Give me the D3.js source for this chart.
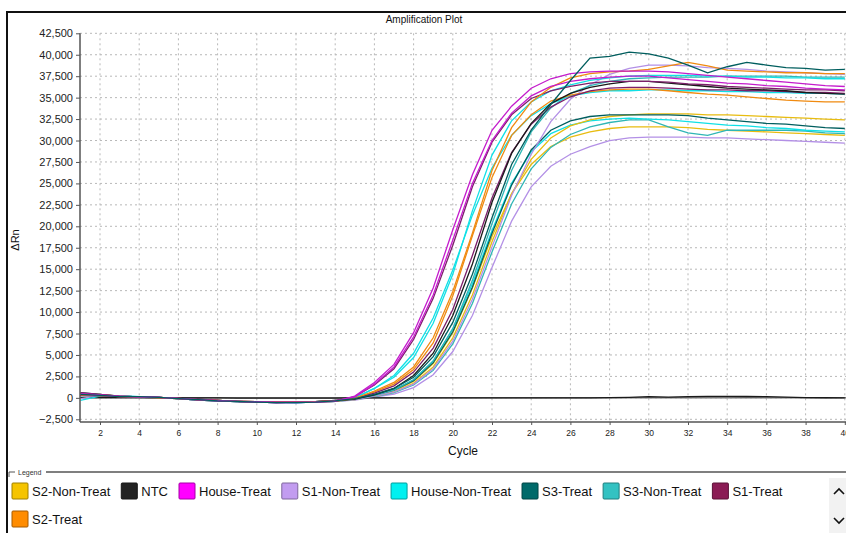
<!DOCTYPE html>
<html>
<head>
<meta charset="UTF-8">
<title>Amplification Plot</title>
<style>
  body { margin: 0; background: #fff; }
  svg { display: block; font-family: "Liberation Sans", Arial, sans-serif; }
  .grid line { stroke: #b8b8b8; stroke-dasharray: 2,3; }
  .axis path, .axis line { stroke: #555; }
  .axis text { fill: #222; }
</style>
</head>
<body>
<svg width="846" height="533"></svg>
<script src="https://d3js.org/d3.v7.min.js"></script>
<script>
// cycle numbers and tick values
var cycles = d3.range(1, 41);
var xTicks = d3.range(2, 41, 2);
var yTicks = d3.range(-2500, 42501, 2500);

// legend entries (sample name, swatch colour, line colour)
var samples = ["S2-Non-Treat", "NTC", "House-Treat", "S1-Non-Treat", "House-Non-Treat", "S3-Treat", "S3-Non-Treat", "S1-Treat", "S2-Treat"];
var sampleColors = ["#f5c400", "#222222", "#ff00ff", "#c29cf0", "#00f0f0", "#006a6a", "#33c2c2", "#8b1c55", "#ff8c00"];
var lineColors = ["#e8bc10", "#1a1a1a", "#c41ccc", "#b390e6", "#10e0e6", "#005e5e", "#2fb6b6", "#7c1f6a", "#f08a10"];

// delta Rn per cycle (1..40), one array per well
var houseTreatA = [500, 350, 200, 100, 50, -50, -200, -300, -400, -450, -500, -500, -500, -400,
  200, 1800, 3900, 7600, 12800, 19600, 26000, 31200, 34000, 36100, 37200, 37800, 38000, 38100, 38100, 38100, 38000, 37800, 37600, 37400, 37200, 37000, 36800, 36600, 36400, 36300];
var houseTreatB = [400, 300, 150, 150, 50, -100, -200, -350, -400, -500, -550, -550, -500, -350,
  100, 1600, 3600, 7100, 12000, 18400, 25000, 30000, 33200, 35200, 36300, 36900, 37200, 37400, 37500, 37500, 37300, 37100, 36900, 36700, 36600, 36400, 36300, 36100, 36000, 35900];
var s1TreatA = [300, 250, 150, 100, 50, -50, -150, -300, -400, -450, -500, -500, -450, -350,
  150, 1500, 3400, 6800, 11600, 17800, 24600, 29800, 33000, 34900, 35800, 36300, 36700, 36900, 36900, 36900, 36800, 36600, 36500, 36300, 36200, 36100, 36000, 35900, 35900, 35800];
var s1TreatB = [600, 400, 200, 100, 0, -100, -250, -350, -450, -500, -550, -500, -450, -300,
  -100, 550, 1400, 3000, 5800, 10300, 16600, 23300, 28600, 31900, 33900, 35100, 35800, 36100, 36200, 36200, 36100, 36000, 35900, 35900, 35800, 35800, 35700, 35600, 35600, 35500];
var houseNonTreatA = [-300, 200, 250, 150, 50, -100, -250, -350, -450, -500, -500, -550, -500, -400,
  0, 1100, 2400, 4700, 8700, 14400, 21800, 28300, 32300, 34500, 35800, 36500, 37000, 37300, 37500, 37600, 37600, 37600, 37500, 37500, 37400, 37400, 37300, 37300, 37200, 37200];
var houseNonTreatB = [450, 300, 200, 100, 0, -100, -200, -300, -400, -500, -500, -500, -450, -350,
  0, 1100, 2600, 5200, 9300, 14900, 21300, 26800, 30600, 32900, 34300, 35200, 35600, 35800, 35800, 35900, 35900, 35800, 35800, 35700, 35700, 35600, 35600, 35500, 35500, 35400];
var houseNonTreatC = [350, 300, 200, 100, 50, -100, -250, -350, -450, -500, -550, -550, -500, -400,
  -150, 300, 950, 2100, 4300, 8000, 13300, 19500, 25000, 28700, 30800, 31800, 32300, 32500, 32600, 32500, 32400, 32200, 32000, 31800, 31700, 31500, 31400, 31200, 31100, 31000];
var s2TreatA = [350, 250, 150, 100, 0, -100, -200, -300, -400, -450, -500, -500, -450, -350,
  -50, 800, 1800, 3600, 7000, 12400, 19200, 26500, 31500, 34500, 36200, 37300, 37800, 38000, 38100, 38300, 38700, 39100, 38700, 38200, 38100, 38000, 37900, 37900, 37800, 37800];
var s2TreatB = [500, 350, 200, 100, 50, -50, -200, -300, -400, -450, -500, -500, -500, -400,
  -100, 700, 1600, 3300, 6400, 11900, 18900, 25700, 30600, 33000, 34600, 35300, 35700, 35900, 36000, 36000, 35800, 35600, 35400, 35300, 35100, 34900, 34700, 34600, 34500, 34500];
var s3TreatA = [400, 300, 150, 150, 50, -100, -200, -350, -400, -500, -550, -550, -500, -350,
  -100, 400, 1100, 2400, 4800, 8800, 14400, 21000, 27200, 31200, 34200, 37000, 39600, 39800, 40300, 40100, 39600, 38800, 37900, 38600, 39100, 38800, 38500, 38400, 38200, 38300];
var s3TreatB = [600, 400, 200, 100, 0, -100, -250, -350, -450, -500, -550, -500, -450, -300,
  -150, 300, 900, 2000, 4100, 7700, 12900, 19200, 24800, 28900, 31200, 32300, 32800, 33000, 33000, 33000, 33000, 32900, 32600, 32400, 32200, 32000, 31900, 31700, 31500, 31400];
var ntcA = [300, 250, 150, 100, 50, -50, -150, -300, -400, -450, -500, -500, -450, -350,
  -150, 350, 1100, 2600, 5200, 9600, 15600, 22800, 28500, 32000, 34300, 35500, 36200, 36600, 36900, 36900, 36700, 36500, 36300, 36100, 36000, 35900, 35800, 35600, 35500, 35400];
var ntcB = [50, 40, 30, 20, 10, 0, -10, -10, -20, -20, -20, -20, -20, -20,
  -10, 0, 0, 0, 0, 0, 0, 0, 0, 0, 0, 0, 0, 20, 60, 150, 90, 140, 170, 170, 160, 140, 80, 30, 10, 0];
var s1NonTreatA = [-100, 250, 200, 150, 50, -100, -250, -350, -450, -500, -550, -550, -500, -400,
  -200, 200, 700, 1600, 3400, 6600, 11500, 17600, 23600, 28400, 32200, 34800, 36500, 37700, 38400, 38800, 38800, 38700, 38500, 38400, 38300, 38100, 38000, 37900, 37800, 37700];
var s1NonTreatB = [450, 350, 200, 100, 0, -100, -250, -350, -450, -500, -550, -550, -500, -400,
  -250, 100, 450, 1200, 2700, 5400, 9600, 15200, 20600, 24600, 27000, 28400, 29300, 30000, 30300, 30400, 30400, 30400, 30300, 30300, 30200, 30100, 30000, 29900, 29800, 29700];
var s3NonTreatA = [400, 300, 200, 100, 50, -100, -200, -300, -400, -500, -500, -500, -450, -350,
  -150, 300, 900, 2100, 4300, 8100, 13700, 20300, 26500, 31000, 33800, 35500, 36400, 36900, 37200, 37300, 37400, 37400, 37400, 37500, 37500, 37500, 37500, 37400, 37400, 37400];
var s3NonTreatB = [250, 300, 150, 100, 50, -50, -200, -300, -400, -450, -500, -550, -500, -400,
  -200, 150, 600, 1500, 3200, 6300, 11000, 17000, 22600, 26700, 29200, 30700, 31600, 32100, 32400, 32400, 31600, 30900, 30600, 31200, 31200, 31200, 31200, 31100, 30900, 30800];
var s2NonTreatA = [550, 400, 200, 100, 0, -100, -250, -350, -450, -500, -500, -500, -450, -350,
  -200, 200, 700, 1700, 3600, 7000, 12000, 18200, 23800, 27800, 30300, 31700, 32400, 32800, 33000, 33100, 33100, 33100, 33000, 33000, 32900, 32800, 32700, 32600, 32500, 32400];
var s2NonTreatB = [500, 350, 200, 100, 50, -50, -200, -300, -400, -450, -500, -500, -500, -400,
  -150, 250, 800, 1900, 4000, 7600, 12800, 18800, 23800, 27200, 29300, 30400, 31000, 31400, 31600, 31600, 31600, 31500, 31300, 31200, 31100, 31000, 30900, 30800, 30700, 30600];

var wells = [
  { sample: "S1-Non-Treat", values: s1NonTreatB },
  { sample: "S2-Non-Treat", values: s2NonTreatB },
  { sample: "S3-Non-Treat", values: s3NonTreatB },
  { sample: "House-Non-Treat", values: houseNonTreatC },
  { sample: "S2-Non-Treat", values: s2NonTreatA },
  { sample: "S3-Treat", values: s3TreatB },
  { sample: "NTC", values: ntcB },
  { sample: "S1-Non-Treat", values: s1NonTreatA },
  { sample: "S3-Non-Treat", values: s3NonTreatA },
  { sample: "House-Non-Treat", values: houseNonTreatB },
  { sample: "House-Non-Treat", values: houseNonTreatA },
  { sample: "S2-Treat", values: s2TreatB },
  { sample: "S1-Treat", values: s1TreatB },
  { sample: "NTC", values: ntcA },
  { sample: "S1-Treat", values: s1TreatA },
  { sample: "S2-Treat", values: s2TreatA },
  { sample: "House-Treat", values: houseTreatB },
  { sample: "House-Treat", values: houseTreatA },
  { sample: "S3-Treat", values: s3TreatA }
];

var svg = d3.select("svg");
var color = d3.scaleOrdinal().domain(samples).range(sampleColors);
var lineColor = d3.scaleOrdinal().domain(samples).range(lineColors);

var x = d3.scaleLinear().domain([1, 40]).range([80.4, 844.8]);
var y = d3.scaleLinear().domain([-2500, 42500]).range([419.3, 33.3]);
var plotBottom = 422;

// outer frame
svg.append("line").attr("x1", 7).attr("x2", 7).attr("y1", 12).attr("y2", 533)
  .attr("stroke", "#111").attr("stroke-width", 2);
svg.append("line").attr("x1", 6).attr("x2", 846).attr("y1", 12).attr("y2", 12)
  .attr("stroke", "#111").attr("stroke-width", 2);

svg.append("text").attr("x", 424).attr("y", 23).attr("text-anchor", "middle")
  .attr("font-size", 10).attr("fill", "#111").text("Amplification Plot");

// grid
var grid = svg.append("g").attr("class", "grid");
grid.selectAll(".gy").data(yTicks).enter().append("line")
  .attr("x1", 80).attr("x2", 846)
  .attr("y1", function (d) { return y(d); }).attr("y2", function (d) { return y(d); });
grid.selectAll(".gx").data(xTicks).enter().append("line")
  .attr("x1", function (d) { return x(d); }).attr("x2", function (d) { return x(d); })
  .attr("y1", y(42500)).attr("y2", plotBottom);

// zero line
svg.append("line").attr("x1", 80).attr("x2", 846).attr("y1", y(0)).attr("y2", y(0))
  .attr("stroke", "#777").attr("stroke-width", 1.5);

// curves
var line = d3.line()
  .x(function (d, i) { return x(cycles[i]); })
  .y(function (d) { return y(d); });

svg.append("g").selectAll("path").data(wells).enter().append("path")
  .attr("d", function (d) { return line(d.values); })
  .attr("fill", "none")
  .attr("stroke", function (d) { return lineColor(d.sample); })
  .attr("stroke-width", 1.3);

// axes
var yAxis = svg.append("g").attr("class", "axis").attr("transform", "translate(80,0)")
  .call(d3.axisLeft(y).tickValues(yTicks).tickSize(4).tickSizeOuter(0).tickFormat(d3.format(",")));
yAxis.select(".domain").attr("d", "M0," + y(42500) + "V" + plotBottom).attr("stroke-width", 1.5);
yAxis.selectAll("text").attr("font-size", 11);

var xAxis = svg.append("g").attr("class", "axis").attr("transform", "translate(0," + plotBottom + ")")
  .call(d3.axisBottom(x).tickValues(xTicks).tickSize(3).tickSizeOuter(0));
xAxis.select(".domain").attr("d", "M80,0H846").attr("stroke-width", 1.5);
xAxis.selectAll("text").attr("font-size", 8.5).attr("dy", "0.9em");

svg.append("text").attr("transform", "translate(19,240) rotate(-90)")
  .attr("text-anchor", "middle").attr("font-size", 11).attr("fill", "#111").text("\u0394Rn");
svg.append("text").attr("x", 463).attr("y", 455).attr("text-anchor", "middle")
  .attr("font-size", 12).attr("fill", "#111").text("Cycle");

// legend box
svg.append("line").attr("x1", 9).attr("x2", 9).attr("y1", 472).attr("y2", 477).attr("stroke", "#555");
svg.append("line").attr("x1", 9).attr("x2", 15).attr("y1", 472).attr("y2", 472).attr("stroke", "#555");
svg.append("line").attr("x1", 46).attr("x2", 846).attr("y1", 472).attr("y2", 472).attr("stroke", "#555").attr("stroke-width", 1.3);
svg.append("text").attr("x", 18).attr("y", 475).attr("font-size", 7).attr("fill", "#333").text("Legend");

var legend = svg.append("g");
var lx = 12, ly = 483, maxX = 822;
samples.forEach(function (s) {
  var item = legend.append("g");
  item.append("rect").attr("width", 16).attr("height", 16).attr("rx", 1)
    .attr("fill", color(s)).attr("stroke", d3.color(color(s)).darker(1.2)).attr("stroke-width", 1);
  var t = item.append("text").attr("x", 20).attr("y", 13).attr("font-size", 13).attr("fill", "#111").text(s);
  var w = 20 + t.node().getComputedTextLength();
  if (lx + w > maxX) { lx = 12; ly += 28; }
  item.attr("transform", "translate(" + lx + "," + ly + ")");
  lx += w + 11;
});

// scroll arrows
svg.append("rect").attr("x", 829).attr("y", 478).attr("width", 17).attr("height", 55).attr("fill", "#f2f2f2");
svg.append("path").attr("d", "M834,494L839,489L844,494").attr("fill", "none").attr("stroke", "#111").attr("stroke-width", 1.6);
svg.append("path").attr("d", "M834,518L839,523L844,518").attr("fill", "none").attr("stroke", "#111").attr("stroke-width", 1.6);
</script>
</body>
</html>
